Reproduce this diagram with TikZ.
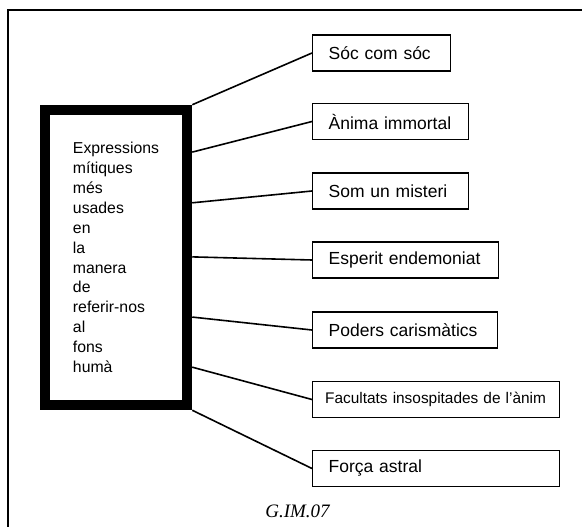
\documentclass[tikz,border=0pt]{standalone}
\usepackage{fontspec}
\setmainfont{Liberation Sans}
\newfontfamily\capfont{Liberation Serif}
\usetikzlibrary{positioning,calc}

\begin{document}
\begin{tikzpicture}[x=1pt,y=-1pt,
    framebox/.style={line width=1.4pt},
    mainbox/.style={draw,line width=10.5pt,minimum width=142pt,
      minimum height=295pt,align=left,
      font=\fontsize{15.8}{19.9}\selectfont},
    itembox/.style={draw,line width=1.3pt,anchor=west,minimum height=36pt,
      inner xsep=16pt,align=left,font=\fontsize{17.5}{20}\selectfont},
    link/.style={line width=1.6pt}]
  \useasboundingbox (0,0) rectangle (582,527);
  % page frame
  \draw[framebox] (8,530) -- (8,10) -- (585,10);
  % central box
  \node[mainbox] (main) at (116,257.5)
    {Expressions\\mítiques\\més\\usades\\en\\la\\manera\\de\\referir-nos\\al\\fons\\humà};
  % expressions
  \node[itembox,text width=106pt] (soc) at (312,53) {Sóc com sóc};
  \node[itembox,text width=124pt] (anima) at (312,121.5) {Ànima immortal};
  \node[itembox,text width=124pt] (misteri) at (312,191) {Som un misteri};
  \node[itembox,text width=154pt] (esperit) at (312,260) {Esperit endemoniat};
  \node[itembox,text width=153pt] (poders) at (312,330) {Poders carismàtics};
  \node[itembox,text width=222pt,inner xsep=12.5pt,
    font=\fontsize{15.4}{18}\selectfont] (facultats) at (312,399.5)
    {Facultats\ insospitades\ de\ l'ànim};
  \node[itembox,text width=215pt] (forca) at (312,468.5) {Força astral};
  % connectors
  \draw[link] (main.north east) -- (soc.west);
  \draw[link] ($(main.north east)!0.155!(main.south east)$) -- (anima.west);
  \draw[link] ($(main.north east)!0.321!(main.south east)$) -- (misteri.west);
  \draw[link] ($(main.north east)!0.498!(main.south east)$) -- (esperit.west);
  \draw[link] ($(main.north east)!0.695!(main.south east)$) -- (poders.west);
  \draw[link] ($(main.north east)!0.859!(main.south east)$) -- (facultats.west);
  \draw[link] (main.south east) -- (forca.west);
  % caption
  \node[font=\capfont\itshape\fontsize{19}{22}\selectfont,anchor=base]
    (caption) at (297.5,517) {G.IM.07};
\end{tikzpicture}
\end{document}
